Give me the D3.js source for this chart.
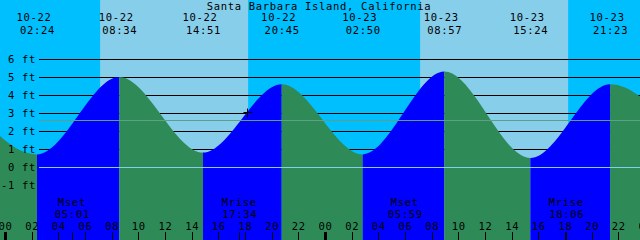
<!DOCTYPE html>
<html>
<head>
<meta charset="utf-8">
<script src="https://d3js.org/d3.v7.min.js"></script>
<style>
  html, body { margin: 0; padding: 0; background: #fff; }
  svg { display: block; }
  text { font-family: "DejaVu Sans Mono", monospace; font-size: 10.5px; letter-spacing: 0.7px; fill: #000; }
</style>
</head>
<body>
<svg id="viz" width="640" height="240"></svg>
<script>
// tide extremes (first and last are just outside the window)
var tideTimes = ["10-21 20:12", "10-22 02:24", "10-22 08:34", "10-22 14:51", "10-22 20:45",
                 "10-23 02:50", "10-23 08:57", "10-23 15:24", "10-23 21:23", "10-24 03:35"];
var tideHeights = [4.7, 0.7, 5.0, 0.8, 4.6, 0.7, 5.3, 0.5, 4.6, 0.6];

var sunRise = ["10-22 07:08", "10-23 07:08"];
var sunSet = ["10-22 18:14", "10-23 18:14"];

var moonTimes = ["10-22 05:01", "10-22 17:34", "10-23 05:59", "10-23 18:06"];
var moonEvents = ["Mset", "Mrise", "Mset", "Mrise"];

var feetTicks = [6, 5, 4, 3, 2, 1, 0, -1];
var meanLevel = 2.6;
var nowTime = "10-22 18:09";
var nowHeight = 3.05;
var title = "Santa Barbara Island, California";

(function() {
    var svg = d3.select('svg#viz');
    var width = 640, height = 240;
    var parse = d3.timeParse("%m-%d %H:%M");
    var fmtDate = d3.timeFormat("%m-%d");
    var fmtTime = d3.timeFormat("%H:%M");

    var day0 = parse("10-22 00:00");
    var day2 = parse("10-24 00:00");
    var x = d3.scaleTime().domain([day0, day2]).range([5, 645]);
    var y = d3.scaleLinear().domain([0, 6]).range([167, 59]);

    var tides = tideTimes.map(function(t, i) {
        return {t: parse(t), h: tideHeights[i]};
    });

    // sky: night everywhere, day bands on top
    svg.append('rect')
        .attr('x', 0).attr('y', 0).attr('width', width).attr('height', height)
        .attr('fill', '#00bfff');
    svg.selectAll('rect.day').data(sunRise).enter().append('rect')
        .attr('class', 'day')
        .attr('x', function(d) { return x(parse(d)); })
        .attr('y', 0)
        .attr('width', function(d, i) { return x(parse(sunSet[i])) - x(parse(d)); })
        .attr('height', height)
        .attr('fill', '#87ceeb');

    // grid lines
    svg.selectAll('line.grid').data(feetTicks.filter(function(d) { return d > 0; }))
        .enter().append('line')
        .attr('class', 'grid')
        .attr('x1', 39).attr('x2', width)
        .attr('y1', function(d) { return Math.round(y(d)) + 0.5; })
        .attr('y2', function(d) { return Math.round(y(d)) + 0.5; })
        .attr('stroke', '#000')
        .attr('stroke-width', 1);

    // tide area, coloured by rising / falling
    var area = d3.area()
        .x(function(d) { return x(d.t); })
        .y0(height)
        .y1(function(d) { return y(d.h); })
        .curve(d3.curveMonotoneX);

    svg.append('clipPath').attr('id', 'tideclip')
        .append('path').attr('d', area(tides));

    var g = svg.append('g').attr('clip-path', 'url(#tideclip)');
    g.selectAll('rect').data(tides.slice(0, -1)).enter().append('rect')
        .attr('x', function(d) { return x(d.t); })
        .attr('y', 0)
        .attr('width', function(d, i) { return x(tides[i + 1].t) - x(d.t); })
        .attr('height', height)
        .attr('fill', function(d, i) { return tides[i + 1].h > d.h ? '#0000ff' : '#2e8b57'; });

    // zero and mean lines
    svg.append('line')
        .attr('x1', 39).attr('x2', width)
        .attr('y1', Math.round(y(0)) + 0.5).attr('y2', Math.round(y(0)) + 0.5)
        .attr('stroke', '#87ceeb');
    svg.append('line')
        .attr('x1', 39).attr('x2', width)
        .attr('y1', Math.round(y(meanLevel)) + 0.5).attr('y2', Math.round(y(meanLevel)) + 0.5)
        .attr('stroke', '#5f9f87');

    // feet labels
    svg.selectAll('text.ft').data(feetTicks).enter().append('text')
        .attr('class', 'ft')
        .attr('x', 36)
        .attr('y', function(d) { return y(d); })
        .attr('dy', '0.35em')
        .attr('text-anchor', 'end')
        .text(function(d) { return d + ' ft'; });

    // title
    svg.append('text')
        .attr('x', 319).attr('y', 6).attr('dy', '0.35em')
        .attr('text-anchor', 'middle')
        .text(title);

    // tide time labels
    var shown = tides.filter(function(d) { return d.t >= day0 && d.t < day2; });
    svg.selectAll('text.tdate').data(shown).enter().append('text')
        .attr('x', function(d) { return x(d.t) - 3; })
        .attr('y', 17).attr('dy', '0.35em')
        .attr('text-anchor', 'middle')
        .text(function(d) { return fmtDate(d.t); });
    svg.selectAll('text.ttime').data(shown).enter().append('text')
        .attr('x', function(d) { return x(d.t) + 0.5; })
        .attr('y', 30).attr('dy', '0.35em')
        .attr('text-anchor', 'middle')
        .text(function(d) { return fmtTime(d.t); });

    // moon labels
    moonTimes.forEach(function(m, i) {
        var mx = x(parse(m));
        svg.append('text').attr('x', mx).attr('y', 202).attr('dy', '0.35em')
            .attr('text-anchor', 'middle').text(moonEvents[i]);
        svg.append('text').attr('x', mx + 0.5).attr('y', 214).attr('dy', '0.35em')
            .attr('text-anchor', 'middle').text(m.slice(6));
        svg.append('line')
            .attr('x1', Math.round(mx) + 0.5).attr('x2', Math.round(mx) + 0.5)
            .attr('y1', 232).attr('y2', height)
            .attr('stroke', '#000');
    });

    // hour axis along the bottom
    var hours = d3.timeHour.every(2).range(day0, d3.timeHour.offset(day2, 1));
    svg.selectAll('text.hr').data(hours).enter().append('text')
        .attr('x', function(d) { return x(d) + 0.5; })
        .attr('y', 226).attr('dy', '0.35em')
        .attr('text-anchor', 'middle')
        .text(function(d) { return d3.timeFormat("%H")(d); });
    svg.selectAll('line.hr').data(hours).enter().append('line')
        .attr('x1', function(d) { return Math.round(x(d)) + 0.5; })
        .attr('x2', function(d) { return Math.round(x(d)) + 0.5; })
        .attr('y1', 232).attr('y2', height)
        .attr('stroke', '#000')
        .attr('stroke-width', function(d) { return d.getHours() === 0 ? 3 : 1; });

    // current time marker
    var nx = Math.round(x(parse(nowTime))) + 0.5;
    var ny = Math.round(y(nowHeight)) + 0.5;
    svg.append('path')
        .attr('d', 'M' + (nx - 4) + ',' + ny + 'H' + (nx + 5) + 'M' + nx + ',' + (ny - 4) + 'V' + (ny + 5))
        .attr('stroke', '#000')
        .attr('fill', 'none');
})();
</script>
</body>
</html>
